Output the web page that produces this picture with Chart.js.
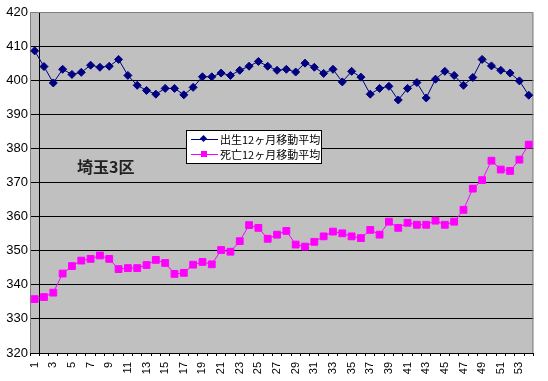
<!DOCTYPE html>
<html>
<head>
<meta charset="utf-8">
<script src="https://cdn.jsdelivr.net/npm/chart.js@4"></script>
<style>
html,body{margin:0;padding:0;background:#fff;}
#wrap{position:relative;width:548px;height:381px;}
#legend{position:absolute;left:186px;top:130px;width:134px;height:31px;border:1px solid #000;background:#fff;box-sizing:content-box;padding-top:1px;}
.row{position:relative;height:15px;font:11px "Noto Sans CJK JP","Liberation Sans",sans-serif;color:#000;line-height:15px;white-space:nowrap;}
.row .ln{position:absolute;left:4px;top:7px;width:27px;height:1px;}
.row .mk{position:absolute;}
.row .tx{position:absolute;left:33px;top:0;}
#note{position:absolute;left:77px;top:157px;font:bold 16px "Noto Sans CJK JP",sans-serif;line-height:18px;color:#222;white-space:nowrap;}
</style>
</head>
<body>
<div id="wrap">
<canvas id="c" width="548" height="381"></canvas>
<div id="note">埼玉3区</div>
<div id="legend">
  <div class="row"><div class="ln" style="background:#000080"></div><div class="mk" style="left:14px;top:4px;width:5px;height:5px;background:#000080;transform:rotate(45deg)"></div><div class="tx" id="l0"></div></div>
  <div class="row"><div class="ln" style="background:#ff00ff"></div><div class="mk" style="left:14px;top:4px;width:6px;height:6px;background:#ff00ff"></div><div class="tx" id="l1"></div></div>
</div>
</div>
<script>
const categories = Array.from({length:54},(_,i)=>String(i+1));
const birthLabel = "出生12ヶ月移動平均";
const deathLabel = "死亡12ヶ月移動平均";
const births = [408.6,404.0,399.2,403.2,401.7,402.3,404.4,403.8,404.1,406.1,
  401.4,398.5,397.0,395.9,397.6,397.6,395.7,397.9,401.0,401.0,
  402.1,401.4,402.9,404.1,405.5,404.1,402.9,403.2,402.4,405.0,
  403.8,402.0,403.2,399.5,402.6,400.9,395.9,397.6,398.2,394.2,
  397.6,399.3,394.8,400.3,402.6,401.4,398.5,400.8,406.1,404.2,
  402.9,402.1,399.8,395.6];
const deaths = [335.8,336.4,337.7,343.3,345.5,347.1,347.6,348.6,347.6,344.6,
  344.9,344.9,345.8,347.3,346.4,343.2,343.5,345.9,346.7,346.0,
  350.2,349.7,352.8,357.5,356.7,353.5,354.7,355.8,351.8,351.2,
  352.6,354.2,355.6,355.1,354.2,353.7,356.1,354.7,358.5,356.7,
  358.2,357.6,357.6,358.8,357.6,358.5,362.0,368.2,370.7,376.4,
  373.8,373.4,376.7,381.1];
const yMin = 320, yMax = 420, yStep = 10;

document.getElementById('l0').textContent = birthLabel;
document.getElementById('l1').textContent = deathLabel;

const bgPlugin = {
  id:'bg',
  beforeDraw(chart){
    const {ctx, chartArea:a} = chart;
    ctx.save();
    ctx.fillStyle = '#c0c0c0';
    ctx.fillRect(a.left, a.top, a.right-a.left, a.bottom-a.top);
    ctx.restore();
  },
  beforeDatasetsDraw(chart){
    const {ctx, chartArea:a} = chart;
    ctx.save();
    ctx.strokeStyle = '#808080';
    ctx.lineWidth = 1;
    ctx.beginPath();
    ctx.moveTo(a.left+0.5, a.bottom);
    ctx.lineTo(a.left+0.5, a.top+0.5);
    ctx.lineTo(a.right-0.5, a.top+0.5);
    ctx.lineTo(a.right-0.5, a.bottom);
    ctx.stroke();
    ctx.restore();
  }
};

new Chart(document.getElementById('c'), {
  type:'line',
  data:{
    labels: categories,
    datasets:[
      {label:birthLabel, data:births, borderColor:'#000080', backgroundColor:'#000080',
       borderWidth:1, pointStyle:'rectRot', pointRadius:4, pointBorderWidth:1, tension:0},
      {label:deathLabel, data:deaths, borderColor:'#ff00ff', backgroundColor:'#ff00ff',
       borderWidth:1, pointStyle:'rect', pointRadius:4.8, pointBorderWidth:1, tension:0}
    ]
  },
  plugins:[bgPlugin],
  options:{
    responsive:false,
    animation:false,
    devicePixelRatio:1,
    layout:{padding:{top:12,right:7,left:0,bottom:0}},
    plugins:{legend:{display:false}, tooltip:{enabled:false}},
    scales:{
      x:{
        offset:true,
        grid:{offset:true, drawOnChartArea:true, tickLength:3,
          color:(c)=> c.index===1 ? '#000' : 'rgba(0,0,0,0)',
          tickColor:'#000', lineWidth:1},
        border:{display:true, color:'#000', width:1},
        ticks:{autoSkip:false, maxRotation:90, minRotation:90, padding:6, color:'#000',
          font:{family:'"Liberation Sans", Arial, sans-serif', size:11},
          callback:(v,i)=> i%2===0 ? categories[i] : ''},
        afterFit:(s)=>{ s.height = 28; }
      },
      y:{
        min:yMin, max:yMax,
        grid:{color:(c)=> (c.tick && c.tick.value===yMax) ? 'rgba(0,0,0,0)' : '#000', drawTicks:false, lineWidth:1},
        border:{display:false},
        ticks:{stepSize:yStep, padding:2, color:'#000',
          font:{family:'"Liberation Sans", Arial, sans-serif', size:13}},
        afterFit:(s)=>{ s.width = 30; }
      }
    }
  }
});
</script>
</body>
</html>
